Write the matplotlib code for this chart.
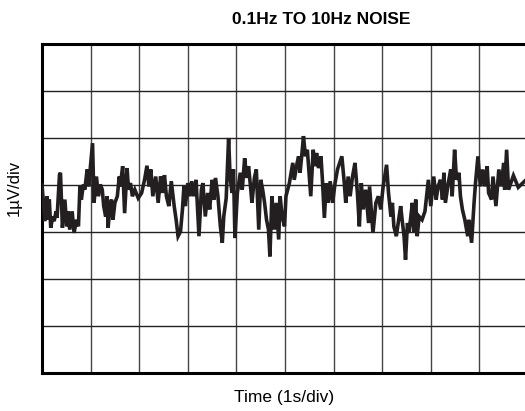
import matplotlib

matplotlib.use("Agg")

import matplotlib.pyplot as plt

# noise trace: time in s, amplitude in uV
time_s = [
    0.00, 0.06, 0.10, 0.13, 0.15, 0.18, 0.22, 0.25, 0.29, 0.31,
    0.36, 0.38, 0.42, 0.47, 0.51, 0.54, 0.57, 0.62, 0.66, 0.71,
    0.75, 0.78, 0.81, 0.85, 0.88, 0.93, 0.96, 1.04, 1.07, 1.12,
    1.16, 1.20, 1.24, 1.27, 1.31, 1.34, 1.36, 1.40, 1.43, 1.46,
    1.50, 1.55, 1.59, 1.61, 1.66, 1.70, 1.75, 1.78, 1.82, 1.86,
    1.91, 1.98, 2.05, 2.11, 2.16, 2.20, 2.24, 2.28, 2.34, 2.39,
    2.44, 2.48, 2.52, 2.56, 2.61, 2.66, 2.72, 2.76, 2.80, 2.85,
    2.89, 2.92, 2.95, 3.00, 3.04, 3.08, 3.12, 3.17, 3.23, 3.28,
    3.31, 3.36, 3.41, 3.45, 3.50, 3.54, 3.57, 3.62, 3.67, 3.71,
    3.74, 3.79, 3.84, 3.87, 3.91, 3.94, 3.97, 4.02, 4.05, 4.08,
    4.12, 4.17, 4.21, 4.25, 4.29, 4.32, 4.37, 4.41, 4.46, 4.50,
    4.54, 4.58, 4.62, 4.66, 4.69, 4.73, 4.78, 4.82, 4.87, 4.90,
    4.94, 4.99, 5.02, 5.09, 5.16, 5.19, 5.25, 5.28, 5.31, 5.35,
    5.38, 5.42, 5.46, 5.50, 5.53, 5.58, 5.62, 5.65, 5.69, 5.74,
    5.77, 5.81, 5.85, 5.89, 5.93, 5.98, 6.03, 6.08, 6.17, 6.22,
    6.25, 6.30, 6.34, 6.39, 6.44, 6.49, 6.53, 6.57, 6.61, 6.66,
    6.72, 6.74, 6.81, 6.87, 6.92, 6.97, 7.02, 7.09, 7.13, 7.18,
    7.21, 7.24, 7.29, 7.33, 7.38, 7.41, 7.45, 7.48, 7.52, 7.55,
    7.59, 7.62, 7.65, 7.69, 7.72, 7.76, 7.82, 7.88, 7.95, 8.00,
    8.06, 8.11, 8.15, 8.20, 8.24, 8.27, 8.30, 8.36, 8.41, 8.44,
    8.49, 8.53, 8.58, 8.61, 8.65, 8.70, 8.76, 8.78, 8.84, 8.89,
    8.92, 8.97, 9.02, 9.07, 9.11, 9.16, 9.19, 9.25, 9.28, 9.34,
    9.40, 9.45, 9.50, 9.52, 9.56, 9.60, 9.70, 9.80, 9.95,
]
noise_uv = [
    0.00, -0.77, -0.24, -0.74, -0.31, -0.91, -0.67, -0.77, -0.56, -0.70,
    0.22, 0.26, -0.91, -0.31, -0.88, -0.56, -0.95, -0.56, -1.02, -0.74,
    -0.88, -0.03, -0.31, 0.01, -0.10, 0.33, -0.03, 0.89, -0.38, 0.18,
    -0.24, 0.01, -0.10, -0.45, -0.67, -0.24, -0.91, -0.45, -0.31, -0.74,
    -0.38, -0.24, 0.18, -0.03, 0.40, -0.60, 0.36, -0.10, 0.04, -0.24,
    -0.10, -0.28, -0.17, 0.11, 0.41, -0.03, 0.33, -0.24, 0.18, -0.38,
    0.18, -0.17, 0.21, -0.24, -0.45, 0.08, -0.45, -0.74, -1.09, -0.99,
    -0.52, -0.03, -0.45, 0.04, -0.24, 0.08, -0.24, 0.11, -1.09, -0.10,
    0.04, -0.67, -0.17, -0.52, 0.11, -0.31, 0.15, -0.24, -0.88, -1.23,
    -0.67, -0.28, 1.00, 0.18, -0.17, 0.33, -1.13, -0.17, 0.04, 0.26,
    -0.10, 0.57, 0.15, 0.40, -0.03, -0.38, 0.15, 0.33, -0.95, 0.11,
    -0.10, -0.38, -0.74, -0.95, -1.52, -0.24, -0.95, -0.38, -1.16, -0.24,
    -0.67, -0.88, -0.24, 0.04, 0.47, 0.11, 0.47, 0.61, 0.26, 0.68,
    1.04, 0.61, 0.75, 0.18, -0.24, 0.75, 0.40, 0.68, 0.36, 0.61,
    0.11, -0.70, 0.04, -0.38, 0.08, -0.38, 0.04, 0.33, 0.61, 0.04,
    -0.38, 0.18, -0.24, 0.18, 0.47, -0.17, -0.88, 0.04, -0.52, -0.10,
    -0.81, -0.03, -1.02, -0.38, -0.24, -0.52, -0.03, 0.43, -0.17, -0.67,
    -0.38, -0.88, -1.09, -0.81, -0.45, -0.74, -1.09, -1.59, -0.81, -1.02,
    -0.67, -0.38, -1.02, -0.31, -1.09, -0.67, -0.74, -0.56, 0.11, -0.45,
    0.18, -0.31, -0.03, 0.11, -0.31, 0.26, -0.38, 0.04, 0.33, -0.24,
    0.75, 0.11, 0.26, -0.24, -0.52, -0.74, -1.09, -0.74, -1.23, -0.38,
    0.04, 0.61, -0.03, 0.33, -0.03, 0.40, -0.17, -0.31, 0.18, -0.45,
    0.33, -0.03, 0.47, -0.10, 0.75, -0.10, 0.20, -0.05, 0.10,
]

x_divs = list(range(0, 11))
y_divs = list(range(-4, 4))

fig = plt.figure(figsize=(5.25, 4.11), dpi=100)
# the scope frame runs slightly past the right edge of the picture
ax = fig.add_axes([0.080, 0.0925, 0.9257, 0.8005])

for x in x_divs:
    ax.axvline(x, color="#444444", linewidth=1.0, zorder=1)
for y in y_divs:
    ax.axhline(y, color="#222222", linewidth=1.0, zorder=1)

ax.plot(time_s, noise_uv, color="#231f20", linewidth=2.6,
        solid_joinstyle="miter", zorder=3)

ax.set_xlim(0, 10)
ax.set_ylim(-4, 3)
ax.set_xticks([])
ax.set_yticks([])
for side in ("left", "bottom", "top", "right"):
    ax.spines[side].set_linewidth(2.2)
    ax.spines[side].set_color("black")

fig.text(0.611, 0.952, "0.1Hz TO 10Hz NOISE", ha="center", va="center",
         fontsize=12.5, fontweight="bold", family="Liberation Sans")
fig.text(0.541, 0.034, "Time (1s/div)", ha="center", va="center",
         fontsize=12.5, family="Liberation Sans")
fig.text(0.027, 0.543, "1µV/div", ha="center", va="center", rotation=90,
         fontsize=12, family="Liberation Sans")

fig.savefig("out.png", dpi=100)
